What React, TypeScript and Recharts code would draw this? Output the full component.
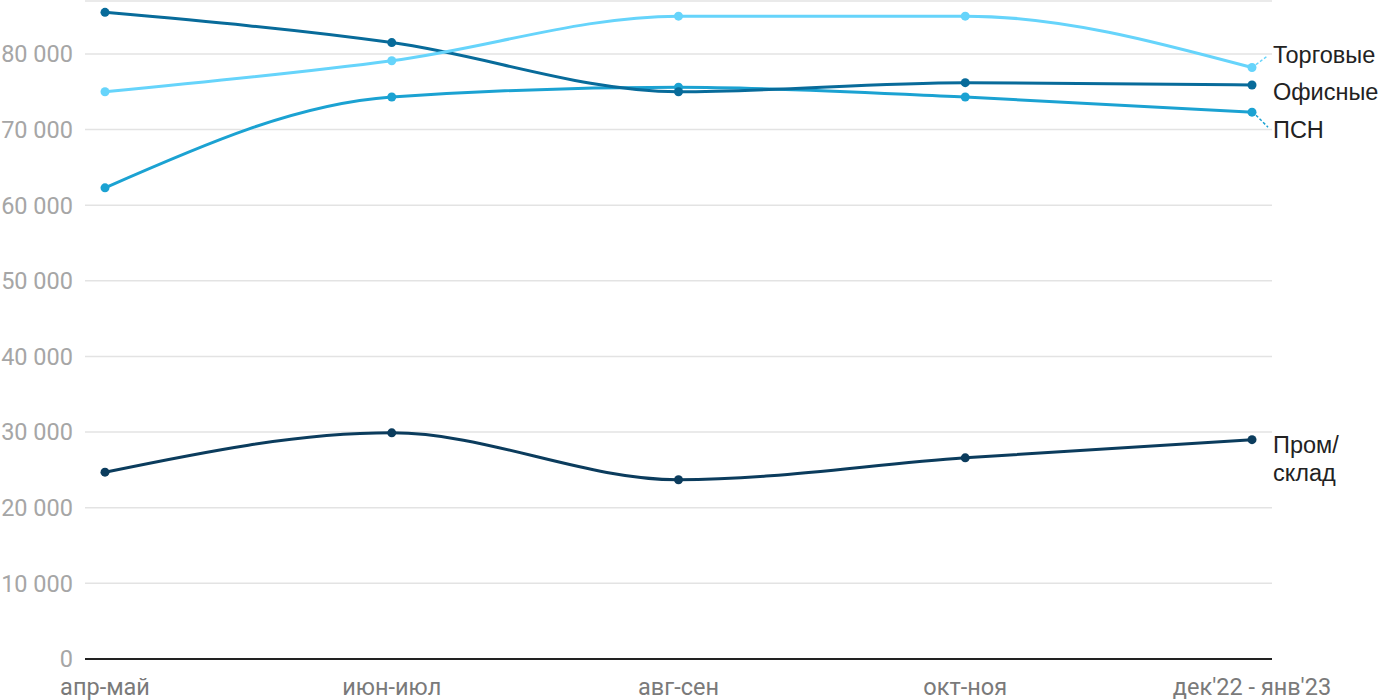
import { LineChart, Line, XAxis, YAxis, CartesianGrid, LabelList } from "recharts";

const periods = ["апр-май", "июн-июл", "авг-сен", "окт-ноя", "дек'22 - янв'23"];
const trade = [75000, 79100, 85000, 85000, 78200];
const office = [85500, 81500, 75000, 76200, 75900];
const psn = [62300, 74300, 75600, 74300, 72300];
const industrial = [24700, 29900, 23700, 26600, 29000];
const yTicks = [0, 10000, 20000, 30000, 40000, 50000, 60000, 70000, 80000];

const data = periods.map((p, i) => ({
  period: p,
  trade: trade[i],
  office: office[i],
  psn: psn[i],
  industrial: industrial[i],
}));

const fmt = (v: number) => (v === 0 ? "0" : v.toLocaleString("en-US").replace(/,/g, " "));

const makeEndLabel =
  (lines: string[], dy: number, color: string, connector: boolean) =>
  (props: any) => {
    const { x, y, index } = props;
    if (index !== periods.length - 1) return null;
    const tx = x + 21;
    const ty = y + dy;
    return (
      <g>
        {connector && (
          <line
            x1={x + 4}
            y1={y + (dy < 0 ? -3 : 3)}
            x2={x + 16}
            y2={ty + (dy < 0 ? 1 : -3)}
            stroke={color}
            strokeWidth={1.5}
            strokeDasharray="3 2"
          />
        )}
        {lines.map((t, i) => (
          <text
            key={i}
            x={tx}
            y={ty + i * 28}
            fill="#222"
            fontSize={23.5}
            fontFamily="Liberation Sans"
            dominantBaseline="central"
          >
            {t}
          </text>
        ))}
      </g>
    );
  };

const series = [
  { key: "industrial", color: "#0b3c5d", lines: ["Пром/", "склад"], dy: 5, connector: false },
  { key: "psn", color: "#1ba2d2", lines: ["ПСН"], dy: 18, connector: true },
  { key: "office", color: "#086b9a", lines: ["Офисные"], dy: 7, connector: false },
  { key: "trade", color: "#66d4fb", lines: ["Торговые"], dy: -13, connector: true },
];

export default function App() {
  return (
    <div style={{ position: "absolute", left: 0, top: 0, fontFamily: "Roboto" }}>
      <LineChart width={1400} height={700} data={data} margin={{ top: 1, right: 128, bottom: 11, left: 0 }}>
        <CartesianGrid horizontal vertical={false} stroke="#e3e3e3" strokeWidth={1.5} />
        <XAxis
          dataKey="period"
          padding={{ left: 20, right: 20 }}
          axisLine={{ stroke: "#222", strokeWidth: 2 }}
          tickLine={false}
          tickMargin={13}
          tick={{ fill: "#7a7a7a", fontSize: 23.5, fontFamily: "Roboto" }}
          interval={0}
        />
        <YAxis
          width={85}
          domain={[0, 87000]}
          ticks={yTicks}
          tickFormatter={fmt}
          axisLine={false}
          tickLine={false}
          tickMargin={6}
          tick={{ fill: "#a6a6a6", fontSize: 23.5, fontFamily: "Roboto" }}
          interval={0}
        />
        {series.map((s) => (
          <Line
            key={s.key}
            type="monotone"
            dataKey={s.key}
            stroke={s.color}
            strokeWidth={3}
            dot={{ r: 4.5, fill: s.color, stroke: s.color, strokeWidth: 0 }}
            activeDot={false}
            isAnimationActive={false}
          >
            <LabelList dataKey={s.key} content={makeEndLabel(s.lines, s.dy, s.color, s.connector)} />
          </Line>
        ))}
      </LineChart>
    </div>
  );
}
